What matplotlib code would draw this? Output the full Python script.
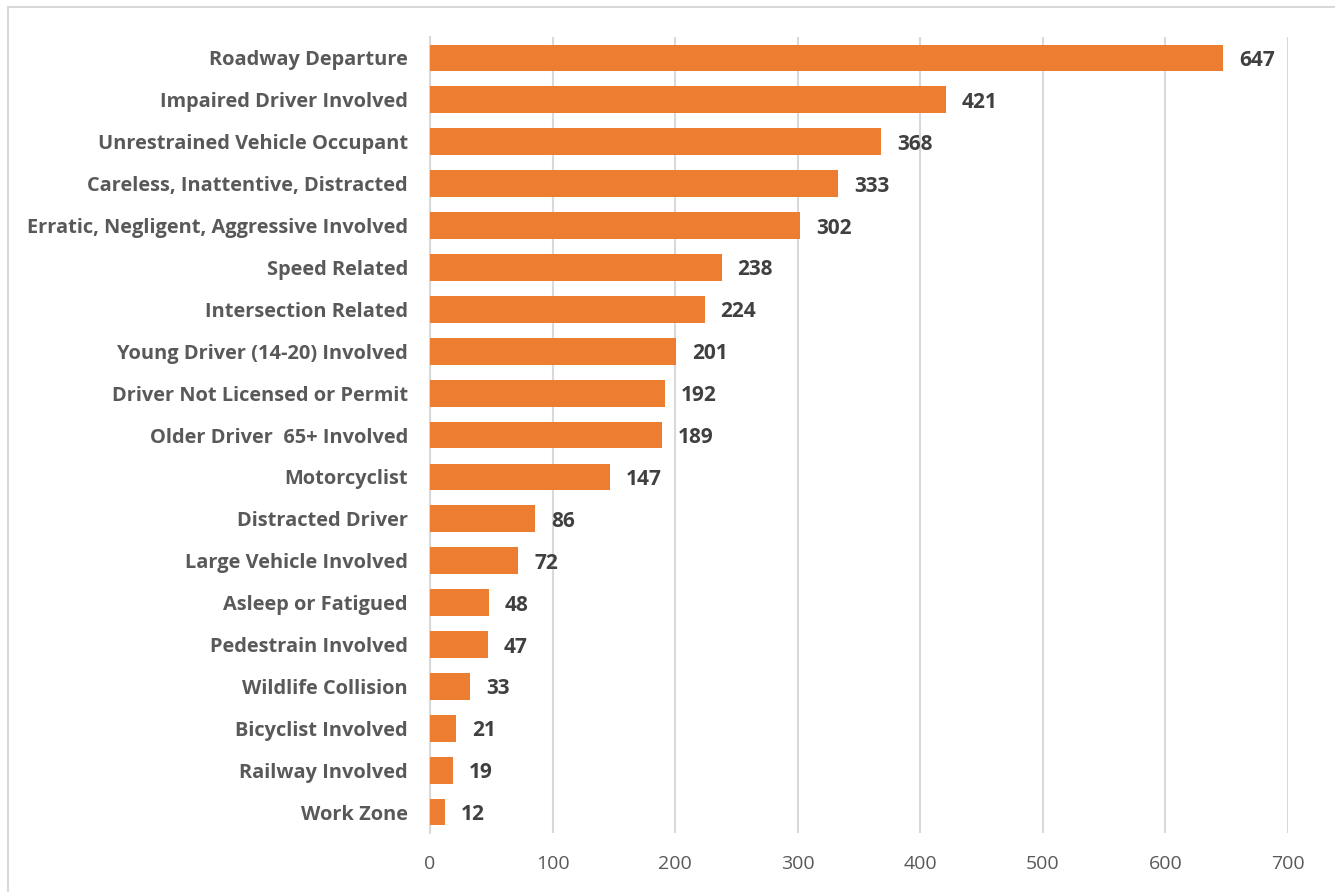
import matplotlib.pyplot as plt
from matplotlib.lines import Line2D

categories = [
    "Roadway Departure",
    "Impaired Driver Involved",
    "Unrestrained Vehicle Occupant",
    "Careless, Inattentive, Distracted",
    "Erratic, Negligent, Aggressive Involved",
    "Speed Related",
    "Intersection Related",
    "Young Driver (14-20) Involved",
    "Driver Not Licensed or Permit",
    "Older Driver  65+ Involved",
    "Motorcyclist",
    "Distracted Driver",
    "Large Vehicle Involved",
    "Asleep or Fatigued",
    "Pedestrain Involved",
    "Wildlife Collision",
    "Bicyclist Involved",
    "Railway Involved",
    "Work Zone",
]
values = [647, 421, 368, 333, 302, 238, 224, 201, 192, 189,
          147, 86, 72, 48, 47, 33, 21, 19, 12]
x_ticks = [0, 100, 200, 300, 400, 500, 600, 700]

plt.rcParams["font.family"] = ["Open Sans", "DejaVu Sans"]

fig = plt.figure(figsize=(13.35, 8.92), dpi=100)
ax = fig.add_axes([0.3221, 0.0661, 0.6427, 0.8924])

ypos = list(range(len(categories)))
ax.barh(ypos, values, height=0.64, color="#ed7d31", zorder=3)
for y, v in zip(ypos, values):
    ax.text(v + 13, y, str(v), va="center_baseline", ha="left", fontsize=15,
            fontweight="bold", color="#404040")

ax.set_ylim(len(categories) - 0.5, -0.5)
ax.set_xlim(0, 700)
ax.set_yticks(ypos)
ax.set_yticklabels(categories, fontsize=14.4, fontweight="bold", color="#595959")
ax.set_xticks(x_ticks)
ax.set_xticklabels([str(t) for t in x_ticks], fontsize=14, color="#595959")
ax.tick_params(axis="both", length=0)
ax.tick_params(axis="y", pad=16)
ax.tick_params(axis="x", pad=16)

ax.grid(axis="x", color="#d9d9d9", linewidth=1.5, zorder=0)
for s in ["top", "right", "bottom"]:
    ax.spines[s].set_visible(False)
ax.spines["left"].set_color("#d9d9d9")
ax.spines["left"].set_linewidth(1.5)

# outer chart-area frame (top and left edges visible)
fig.add_artist(Line2D([8 / 1335, 1], [1 - 7 / 892, 1 - 7 / 892],
                      transform=fig.transFigure, color="#d9d9d9", linewidth=1.5))
fig.add_artist(Line2D([8 / 1335, 8 / 1335], [0, 1 - 7 / 892],
                      transform=fig.transFigure, color="#d9d9d9", linewidth=1.5))

fig.savefig("out.png", dpi=100, facecolor="white")
